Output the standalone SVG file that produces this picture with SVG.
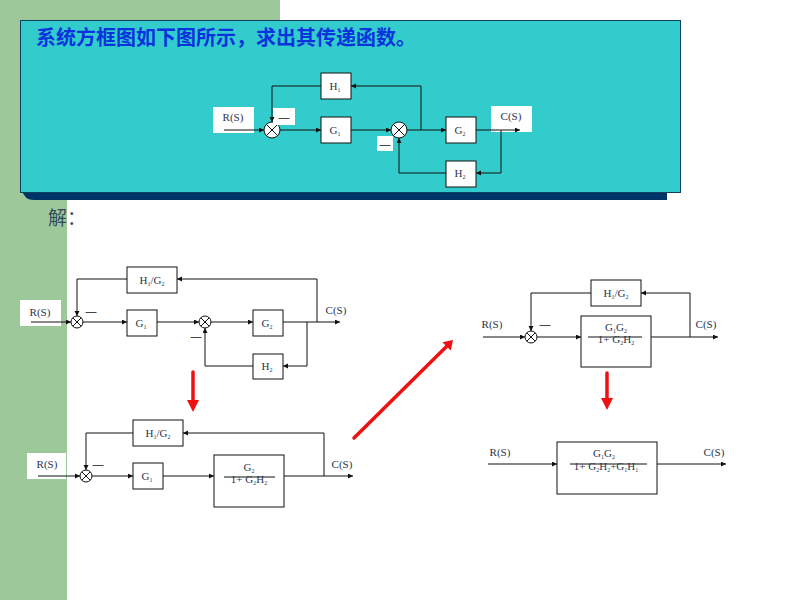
<svg xmlns="http://www.w3.org/2000/svg" width="800" height="600" viewBox="0 0 800 600">
<defs>
<marker id="ah" markerWidth="6" markerHeight="6" refX="5" refY="2.5" orient="auto" markerUnits="userSpaceOnUse"><path d="M0,0 L5,2.5 L0,5 z" fill="#111"/></marker>
<style>
.bx{fill:#fff;stroke:#111;stroke-width:1}
.wl{fill:#fff;stroke:none}
.ln{fill:none;stroke:#111;stroke-width:1;marker-end:url(#ah)}
.pl{fill:none;stroke:#111;stroke-width:1}
.sm{fill:#fff;stroke:#111;stroke-width:1}
.t{font-family:"Liberation Serif","Times New Roman",serif;font-size:11px;fill:#2b3550;text-anchor:middle}
.s{font-size:6px}
.dash{font-family:"Liberation Sans",sans-serif;font-size:11px;fill:#111;text-anchor:middle}
.red{stroke:#ee1111;stroke-width:3.5;fill:none;stroke-linecap:round}
.rh{fill:#ee1111}
</style>
</defs>
<rect x="0" y="0" width="800" height="600" fill="#fff"/>
<rect x="0" y="0" width="280" height="30" fill="#9dc99a"/>
<rect x="0" y="0" width="67" height="600" fill="#9dc99a"/>
<path d="M24 180 H667 V200 H34 Q24 200 22 190 Z" fill="#003366"/>
<rect x="20.5" y="20.5" width="660" height="172" fill="#33cccc" stroke="#104060" stroke-width="1"/>
<text x="36" y="45" font-family="Noto Sans CJK SC, sans-serif" font-size="20" font-weight="bold" fill="#0a33dd">系统方框图如下图所示，求出其传递函数。</text>
<text x="48" y="225" font-family="Noto Sans CJK SC, sans-serif" font-size="19" fill="#34495e">解：</text>

<g id="top-diagram">
<g id="t-R"><rect class="wl" x="213" y="107" width="41" height="26"/><text class="t" x="233" y="121">R(S)</text></g>
<g id="t-sum1"><circle class="sm" cx="272" cy="130" r="8"/><path class="pl" d="M266.3 124.3 L277.7 135.7 M277.7 124.3 L266.3 135.7"/></g>
<g id="t-m1"><rect class="wl" x="273" y="108" width="22" height="17"/><text class="dash" x="284" y="121">—</text></g>
<g id="t-H1"><rect class="bx" x="321" y="73" width="30" height="26"/><text class="t" x="335" y="90">H<tspan class="s" dy="2">1</tspan></text></g>
<g id="t-G1"><rect class="bx" x="321" y="117" width="30" height="26"/><text class="t" x="335" y="134">G<tspan class="s" dy="2">1</tspan></text></g>
<g id="t-sum2"><circle class="sm" cx="399" cy="130" r="8"/><path class="pl" d="M393.3 124.3 L404.7 135.7 M404.7 124.3 L393.3 135.7"/></g>
<g id="t-m2"><rect class="wl" x="377" y="136" width="16" height="15"/><text class="dash" x="385" y="148">—</text></g>
<g id="t-G2"><rect class="bx" x="446" y="117" width="30" height="26"/><text class="t" x="460" y="134">G<tspan class="s" dy="2">2</tspan></text></g>
<g id="t-C"><rect class="wl" x="491" y="106" width="41" height="26"/><text class="t" x="511" y="120">C(S)</text></g>
<g id="t-H2"><rect class="bx" x="446" y="161" width="30" height="26"/><text class="t" x="460" y="177">H<tspan class="s" dy="2">2</tspan></text></g>
</g>

<g id="mid-diagram">
<g id="m-R"><rect class="wl" x="20" y="300" width="41" height="26"/><text class="t" x="40" y="316">R(S)</text></g>
<g id="m-sum1"><circle class="sm" cx="77" cy="322" r="6"/><path class="pl" d="M72.8 317.8 L81.2 326.2 M81.2 317.8 L72.8 326.2"/></g>
<text id="m-m1" class="dash" x="91" y="315">—</text>
<g id="m-H1G2"><rect class="bx" x="127" y="267" width="50" height="26"/><text class="t" x="152" y="284">H<tspan class="s" dy="2">1</tspan><tspan dy="-2">/G</tspan><tspan class="s" dy="2">2</tspan></text></g>
<g id="m-G1"><rect class="bx" x="127" y="310" width="30" height="26"/><text class="t" x="141" y="327">G<tspan class="s" dy="2">1</tspan></text></g>
<g id="m-sum2"><circle class="sm" cx="205" cy="322" r="6"/><path class="pl" d="M200.8 317.8 L209.2 326.2 M209.2 317.8 L200.8 326.2"/></g>
<text id="m-m2" class="dash" x="196" y="340">—</text>
<g id="m-G2"><rect class="bx" x="253" y="310" width="30" height="26"/><text class="t" x="267" y="327">G<tspan class="s" dy="2">2</tspan></text></g>
<text id="m-C" class="t" x="336" y="314">C(S)</text>
<g id="m-H2"><rect class="bx" x="253" y="354" width="30" height="25"/><text class="t" x="267" y="370">H<tspan class="s" dy="2">2</tspan></text></g>
</g>

<g id="bot-diagram">
<g id="b-R"><rect class="wl" x="27" y="453" width="39" height="26"/><text class="t" x="47" y="468">R(S)</text></g>
<g id="b-sum"><circle class="sm" cx="86" cy="476" r="6"/><path class="pl" d="M81.8 471.8 L90.2 480.2 M90.2 471.8 L81.8 480.2"/></g>
<text id="b-m" class="dash" x="98" y="468">—</text>
<g id="b-H1G2"><rect class="bx" x="133" y="420" width="50" height="26"/><text class="t" x="158" y="437">H<tspan class="s" dy="2">1</tspan><tspan dy="-2">/G</tspan><tspan class="s" dy="2">2</tspan></text></g>
<g id="b-G1"><rect class="bx" x="133" y="463" width="30" height="26"/><text class="t" x="147" y="480">G<tspan class="s" dy="2">1</tspan></text></g>
<g id="b-frac"><rect class="bx" x="214" y="455" width="70" height="52"/><text class="t" x="249" y="471">G<tspan class="s" dy="2">2</tspan></text><path class="pl" d="M224 477 H275"/><text class="t" x="249" y="483">1+ G<tspan class="s" dy="2">2</tspan><tspan dy="-2">H</tspan><tspan class="s" dy="2">2</tspan></text></g>
<text id="b-C" class="t" x="342" y="468">C(S)</text>
</g>

<g id="rt-diagram">
<text id="r-R" class="t" x="492" y="328">R(S)</text>
<g id="r-sum"><circle class="sm" cx="531" cy="337" r="6"/><path class="pl" d="M526.8 332.8 L535.2 341.2 M535.2 332.8 L526.8 341.2"/></g>
<text id="r-m" class="dash" x="545" y="328">—</text>
<g id="r-H1G2"><rect class="bx" x="591" y="280" width="50" height="26"/><text class="t" x="616" y="297">H<tspan class="s" dy="2">1</tspan><tspan dy="-2">/G</tspan><tspan class="s" dy="2">2</tspan></text></g>
<g id="r-frac"><rect class="bx" x="581" y="316" width="70" height="51"/><text class="t" x="616" y="331">G<tspan class="s" dy="2">1</tspan><tspan dy="-2">G</tspan><tspan class="s" dy="2">2</tspan></text><path class="pl" d="M588 337 H642"/><text class="t" x="616" y="343">1+ G<tspan class="s" dy="2">2</tspan><tspan dy="-2">H</tspan><tspan class="s" dy="2">2</tspan></text></g>
<text id="r-C" class="t" x="706" y="328">C(S)</text>
</g>

<g id="rb-diagram">
<text id="f-R" class="t" x="500" y="456">R(S)</text>
<g id="f-frac"><rect class="bx" x="557" y="442" width="100" height="52"/><text class="t" x="604" y="457">G<tspan class="s" dy="2">1</tspan><tspan dy="-2">G</tspan><tspan class="s" dy="2">2</tspan></text><path class="pl" d="M570 464 H647"/><text class="t" x="606" y="470">1+ G<tspan class="s" dy="2">2</tspan><tspan dy="-2">H</tspan><tspan class="s" dy="2">2</tspan><tspan dy="-2">+G</tspan><tspan class="s" dy="2">1</tspan><tspan dy="-2">H</tspan><tspan class="s" dy="2">1</tspan></text></g>
<text id="f-C" class="t" x="714" y="456">C(S)</text>
</g>

<g id="connectors">
<path class="ln" d="M224 130 H264"/>
<path class="ln" d="M321 86 H272 V122"/>
<path class="ln" d="M280 130 H321"/>
<path class="ln" d="M351 130 H391"/>
<path class="ln" d="M407 130 H446"/>
<path class="ln" d="M421 130 V86 H351"/>
<path class="ln" d="M476 130 H520"/>
<path class="ln" d="M501 130 V173 H476"/>
<path class="ln" d="M446 173 H399 V138"/>

<path class="ln" d="M31 322 H71"/>
<path class="ln" d="M127 279 H77 V316"/>
<path class="ln" d="M83 322 H127"/>
<path class="ln" d="M157 322 H199"/>
<path class="ln" d="M211 322 H253"/>
<path class="ln" d="M283 322 H340"/>
<path class="ln" d="M317 322 V279 H177"/>
<path class="ln" d="M307 322 V366 H283"/>
<path class="ln" d="M253 366 H205 V328"/>

<path class="ln" d="M38 476 H80"/>
<path class="ln" d="M133 433 H86 V470"/>
<path class="ln" d="M92 476 H133"/>
<path class="ln" d="M163 476 H214"/>
<path class="ln" d="M284 476 H353"/>
<path class="ln" d="M324 476 V433 H183"/>

<path class="ln" d="M483 337 H525"/>
<path class="ln" d="M591 293 H531 V331"/>
<path class="ln" d="M537 337 H581"/>
<path class="ln" d="M651 337 H718"/>
<path class="ln" d="M690 337 V293 H641"/>

<path class="ln" d="M488 464 H557"/>
<path class="ln" d="M657 464 H726"/>
</g>

<g id="red-arrows">
<path class="red" d="M193 372 V401"/><path class="rh" d="M187 400 L199 400 L193 412 Z"/>
<path class="red" d="M607 373 V399"/><path class="rh" d="M601 398 L613 398 L607 410 Z"/>
<path class="red" d="M354 438 L447 346"/><path class="rh" d="M453 340 L450.8 350.6 L442.4 342.2 Z"/>
</g>
</svg>
